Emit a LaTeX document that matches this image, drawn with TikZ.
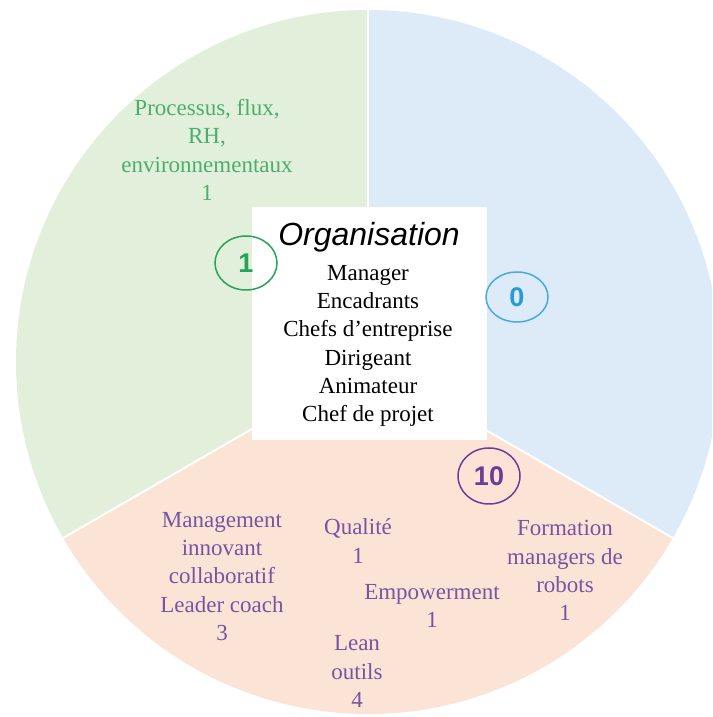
\documentclass[tikz,border=0pt]{standalone}
\usepackage{fontspec}
\setmainfont{Liberation Serif}
\newfontfamily\arialfont{Liberation Sans}
\usetikzlibrary{shapes.geometric}
\definecolor{sgreen}{RGB}{226,239,218}
\definecolor{sblue}{RGB}{221,234,247}
\definecolor{ssalmon}{RGB}{251,228,213}
\definecolor{tgreen}{RGB}{74,174,110}
\definecolor{tpurple}{RGB}{120,84,162}
\definecolor{bgreen}{RGB}{38,163,90}
\definecolor{bblue}{RGB}{42,154,214}
\definecolor{bpurple}{RGB}{108,61,152}
\begin{document}
\begin{tikzpicture}[x=1pt,y=1pt,
  lbl/.style={align=center, font=\fontsize{23}{28.2}\selectfont, inner sep=0pt},
  badge/.style={ellipse, draw, line width=1.5pt, minimum width=62pt, minimum height=54pt, inner sep=0pt, font=\arialfont\bfseries\fontsize{27}{27}\selectfont}]
\useasboundingbox (0,0) rectangle (712,717);
\clip (0,0) rectangle (712,717);
\coordinate (C) at (368,355);
\fill[sgreen] (C) -- ++(90:352) arc[start angle=90,end angle=210,radius=352] -- cycle;
\fill[sblue] (C) -- ++(-30:352) arc[start angle=-30,end angle=90,radius=352] -- cycle;
\fill[ssalmon] (C) -- ++(210:352) arc[start angle=210,end angle=330,radius=352] -- cycle;
\foreach \a in {90,210,330} \draw[white, line width=2pt] (C) -- ++(\a:360);
\node[fill=white, minimum width=235pt, minimum height=233pt, inner sep=0pt] (box) at (369.5,393.5) {};
\node[inner sep=0pt, font=\arialfont\itshape\fontsize{32}{32}\selectfont] (org) at (369,480) {Organisation};
\node[lbl] (roles) at (368,371) {Manager\\Encadrants\\Chefs d’entreprise\\Dirigeant\\Animateur\\Chef de projet};
\node[lbl, text=tgreen] (proc) at (207,567) {Processus, flux,\\RH,\\environnementaux\\1};
\node[lbl, text=tpurple] (mgmt) at (222,140.5) {Management\\innovant\\collaboratif\\Leader coach\\3};
\node[lbl, text=tpurple] (qual) at (358,176) {Qualité\\1};
\node[lbl, text=tpurple] (emp) at (432,111) {Empowerment\\1};
\node[lbl, text=tpurple] (lean) at (357,45.5) {Lean\\outils\\4};
\node[lbl, text=tpurple] (form) at (565,146.5) {Formation\\managers de\\robots\\1};
\node[badge, draw=bgreen, text=bgreen] (b1) at (246,454) {1};
\node[badge, draw=bblue!85, text=bblue, minimum height=50pt] (b0) at (517,420) {0};
\node[badge, draw=bpurple, text=bpurple, minimum height=56pt] (b10) at (489,241) {10};
\end{tikzpicture}
\end{document}
